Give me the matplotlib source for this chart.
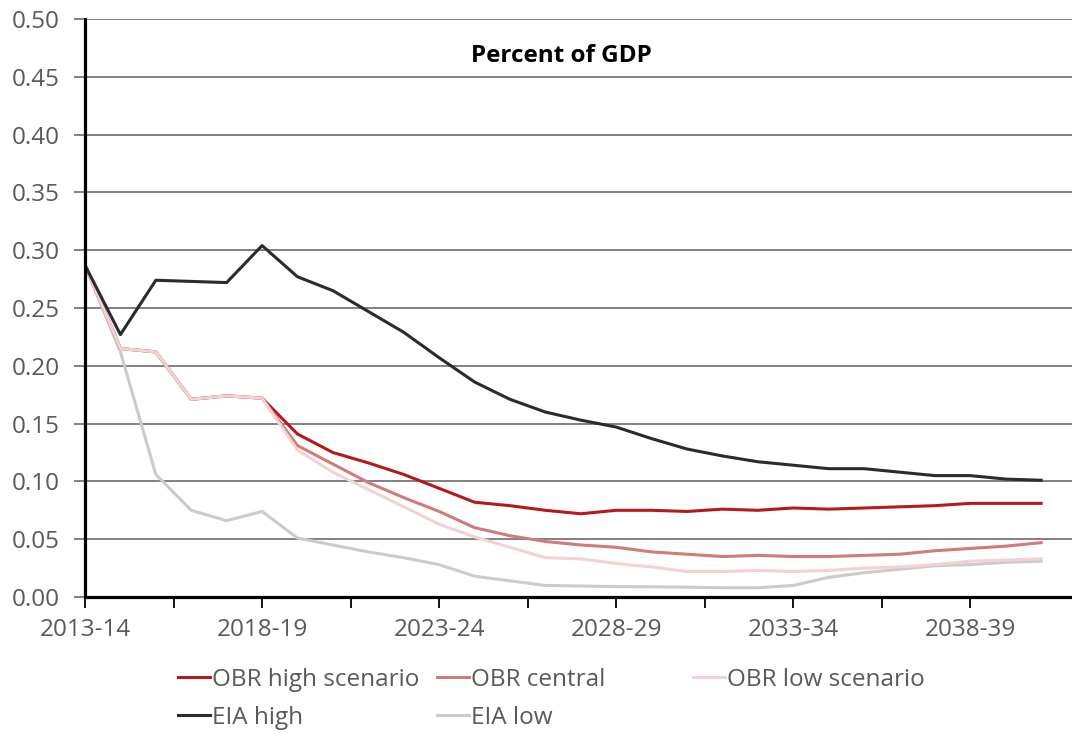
import numpy as np
import matplotlib
matplotlib.use("Agg")
import matplotlib.pyplot as plt
from matplotlib.ticker import MultipleLocator, FixedLocator

plt.rcParams['font.family'] = ['Open Sans', 'DejaVu Sans']

# --- data (share of GDP) ---
years = ["2013-14", "2014-15", "2015-16", "2016-17", "2017-18", "2018-19", "2019-20",
         "2020-21", "2021-22", "2022-23", "2023-24", "2024-25", "2025-26", "2026-27",
         "2027-28", "2028-29", "2029-30", "2030-31", "2031-32", "2032-33", "2033-34",
         "2034-35", "2035-36", "2036-37", "2037-38", "2038-39", "2039-40", "2040-41"]

obr_high = [0.287, 0.215, 0.212, 0.171, 0.174, 0.172, 0.141, 0.125, 0.116, 0.106,
            0.094, 0.082, 0.079, 0.075, 0.072, 0.075, 0.075, 0.074, 0.076, 0.075,
            0.077, 0.076, 0.077, 0.078, 0.079, 0.081, 0.081, 0.081]
obr_central = [0.287, 0.215, 0.212, 0.171, 0.174, 0.172, 0.131, 0.115, 0.099, 0.086,
               0.074, 0.060, 0.053, 0.048, 0.045, 0.043, 0.039, 0.037, 0.035, 0.036,
               0.035, 0.035, 0.036, 0.037, 0.040, 0.042, 0.044, 0.047]
obr_low = [0.287, 0.215, 0.212, 0.171, 0.174, 0.172, 0.127, 0.108, 0.093, 0.078,
           0.063, 0.052, 0.043, 0.034, 0.033, 0.029, 0.026, 0.022, 0.022, 0.023,
           0.022, 0.023, 0.025, 0.026, 0.028, 0.031, 0.032, 0.033]
eia_high = [0.287, 0.227, 0.274, 0.273, 0.272, 0.304, 0.277, 0.265, 0.247, 0.229,
            0.207, 0.186, 0.171, 0.160, 0.153, 0.147, 0.137, 0.128, 0.122, 0.117,
            0.114, 0.111, 0.111, 0.108, 0.105, 0.105, 0.102, 0.101]
eia_low = [0.287, 0.212, 0.106, 0.075, 0.066, 0.074, 0.051, 0.045, 0.039, 0.034,
           0.028, 0.018, 0.014, 0.010, 0.0095, 0.009, 0.0088, 0.0085, 0.008, 0.008,
           0.010, 0.017, 0.021, 0.024, 0.027, 0.028, 0.030, 0.031]

tick_color = '#595959'
fs = 17.5
x = np.arange(len(years))

fig = plt.figure(figsize=(10.72, 7.33), dpi=100)
ax = fig.add_axes([85 / 1072, 136 / 733, 987 / 1072, 578 / 733])

lw = 2.2
l_oh, = ax.plot(x, obr_high, color='#B5191C', lw=lw, label='OBR high scenario', zorder=3)
l_oc, = ax.plot(x, obr_central, color='#D17B7B', lw=lw, label='OBR central', zorder=4)
l_ol, = ax.plot(x, obr_low, color='#F2D2D2', lw=lw, label='OBR low scenario', zorder=5)
l_eh, = ax.plot(x, eia_high, color='#2B2B2B', lw=lw, label='EIA high', zorder=6)
l_el, = ax.plot(x, eia_low, color='#CBCBCB', lw=lw, label='EIA low', zorder=2)

ax.set_xlim(0, 27.87)
ax.set_ylim(0, 0.5)

ax.yaxis.set_major_locator(MultipleLocator(0.05))
ax.yaxis.set_major_formatter(plt.FuncFormatter(lambda v, p: f"{v:.2f}"))
ax.grid(axis='y', color='#5F5F5F', lw=1.1, zorder=0)
ax.set_axisbelow(True)

ax.xaxis.set_major_locator(FixedLocator(x[::5]))
ax.set_xticklabels(years[::5])
ax.xaxis.set_minor_locator(FixedLocator(x[::5][:-1] + 2.5))

ax.tick_params(axis='y', colors='#5F5F5F', labelcolor=tick_color, length=8, width=1.1,
               labelsize=fs, pad=10)
ax.tick_params(axis='x', which='both', colors='black', labelcolor=tick_color, length=8,
               width=1.3, labelsize=fs, pad=7)

for s in ['top', 'right']:
    ax.spines[s].set_visible(False)
for s in ['left', 'bottom']:
    ax.spines[s].set_linewidth(2.3)
    ax.spines[s].set_color('black')
    ax.spines[s].set_zorder(7)

ax.text((561 - 85) / 987, 0.936, 'Percent of GDP', transform=ax.transAxes,
        ha='center', va='center', fontsize=17.5, fontweight='bold', color='black')

# legend: three columns at fixed positions
cols = [[l_oh, l_eh], [l_oc, l_el], [l_ol]]
xpos = [178, 437, 693]
for hs, xp in zip(cols, xpos):
    fig.legend(handles=hs, loc='upper left', bbox_to_anchor=(xp / 1072, 1 - 668 / 733),
               frameon=False, fontsize=fs, handlelength=1.3, handletextpad=0.08,
               labelspacing=0.56, borderaxespad=0, borderpad=0, labelcolor=tick_color)

fig.savefig('out.png', dpi=100)
